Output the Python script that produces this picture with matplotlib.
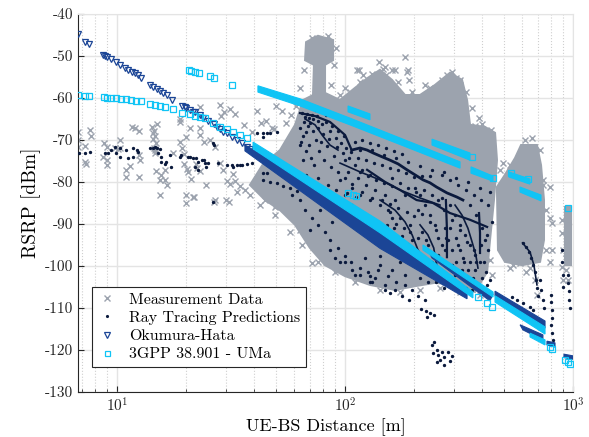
import numpy as np
import matplotlib.pyplot as plt
from matplotlib.ticker import FuncFormatter, LogLocator, NullFormatter

plt.rcParams['font.family'] = ['cmr10', 'DejaVu Serif']
plt.rcParams['mathtext.fontset'] = 'cm'
plt.rcParams['axes.formatter.use_mathtext'] = True

# colours
c_meas = '#9ca3ae'
c_ray = '#0b1a3d'
c_oh = '#1b4596'
c_3gpp = '#10c4f5'

# ---------------- measurement data (gray x) ----------------
# dense part of the cloud, outline read from the picture [m, dBm]
meas_cloud_d = [38.3, 43.4, 51.9, 60.4, 65.5, 72.4, 73.1, 66.8, 67.5, 76.1, 88.6, 88.6, 81.7, 81.7, 95.1,
                110.6, 126, 142.4, 160.7, 183.3, 213.3, 248.2, 288.8, 326, 343, 353.4, 411.3, 455, 464,
                450, 432.5, 420, 371.8, 303.8, 248.2, 202.8, 165.7, 128.7, 100, 81.7, 70.2, 60.4, 51.9, 44.6]
meas_cloud_p = [-80.7, -76.0, -72.4, -66.4, -60.5, -59.3, -52.1, -51.0, -46.7, -45.2, -46.2, -51.0, -52.1, -58.8, -60.5,
                -57.6, -55.2, -53.3, -55.7, -59.3, -59.3, -56.9, -54.0, -55.7, -60.5, -66.4, -66.9, -68.3, -74.8,
                -84.3, -93.8, -101.4, -106.2, -104.5, -104.0, -104.8, -105.7, -104.5, -102.4, -99.8, -95.7, -90.2,
                -86.7, -84.3]
meas_lobe2_d = [464, 503, 557, 592, 695, 724, 746, 746, 717, 598, 503, 469]
meas_lobe2_p = [-81.2, -78.3, -74.3, -71.2, -71.2, -76.0, -84.3, -93.8, -99.0, -99.8, -99.0, -96.2]
meas_lobe3_d = [922, 980, 980, 922]
meas_lobe3_p = [-86.0, -86.0, -99.8, -99.8]

# single measurement points
meas_d = [6.76, 6.76, 6.76, 7.2, 7.24, 7.3, 7.6, 7.65, 8.8, 9.05, 8.7, 9.0, 9.05, 9.8, 10.1, 10.3, 10.3,
          10.9, 10.9, 11.4, 12.5, 11.6, 12.0, 12.5, 12.5, 12.6,
          14.3, 14.5, 14.7, 14.4, 14.8, 14.5, 14.7, 14.4, 14.9, 14.6,
          14.8, 15.5, 15.6, 16.3, 16.3, 16.6, 15.5, 17.6, 18.9, 18.9, 18.9, 19.3, 19.6, 20.1, 21.0,
          19.6, 20.2, 20.5, 21.2, 20.0, 20.0, 21.6, 22.1, 22.5, 23.1, 23.0, 23.2, 23.2, 24.0, 24.5, 26.8,
          26.9, 25.6, 28.3, 29.6, 28.6, 28.3, 29.3, 30.3, 31.3, 32.1, 32.9, 34.6, 31.3, 32.9, 30.0, 31.0,
          26.7, 33.5, 21.8, 47.9, 48.9, 44.6, 49.3, 41.0, 43.0, 45.0, 50.0, 53.0, 55.0, 58.0, 61.0, 36.0, 39.0,
          100, 113, 120, 140.4, 149.8, 165.7, 187, 190.8, 224.3, 280, 295, 319.5, 361, 387, 114.7, 161, 183,
          147, 289, 188,
          495, 709, 793, 793, 805, 805, 793, 891, 891, 900, 891, 900, 935, 935, 950, 547, 586, 625, 681, 695,
          742, 71.5, 63.5, 54.6, 50.0,
          95.1, 105, 116.4, 131.3, 151.3, 171, 197, 235.9, 266.4, 306.8, 339.5, 371.8, 399, 437, 478.5, 529.4,
          615.9, 661, 716.7, 739, 762, 762, 648, 529.4, 432.5, 441, 391.1, 319.5, 261.1, 213.3, 174.3, 142.4,
          110.6, 90.4, 76.1, 64.8, 57.4, 49.3, 42.4, 38.3, 36.4, 63.5, 66.1, 68.8, 71.6, 84.2, 91.3, 89.5, 86.8]
meas_p = [-68.0, -70.0, -71.6, -71.4, -75.2, -75.6, -67.6, -69.0, -70.8, -71.6, -74.0, -74.8, -75.9, -72.0, -72.2,
          -70.0, -71.9, -77.1, -78.7, -76.3, -78.7, -67.0, -67.2, -67.8, -73.6, -74.8,
          -67.0, -67.9, -69.1, -69.8, -70.7, -71.9, -73.0, -68.3, -66.3, -72.4,
          -77.5, -79.5, -78.3, -77.1, -79.5, -80.8, -83.1, -73.2, -65.0, -65.8, -70.4, -71.9, -73.3, -69.2, -67.2,
          -75.6, -76.8, -77.6, -79.2, -83.1, -85.1, -83.6, -75.6, -76.6, -77.4, -62.1, -67.2, -68.8, -70.4, -80.7,
          -84.3, -71.6, -70.0, -61.6, -63.4, -64.2, -75.5, -77.1, -79.8, -80.5, -78.1, -79.8, -81.0, -62.6, -63.8,
          -84.3, -84.7, -84.7, -82.3, -83.5, -67.2, -67.4, -84.3, -85.9, -63.0, -66.0, -65.5, -62.0, -63.0, -66.0,
          -64.0, -62.0, -66.5, -68.0,
          -57.6, -53.3, -54.5, -51.4, -52.6, -53.3, -53.8, -55.7, -56.9, -54.5, -53.8, -55.7, -62.4, -64.8, -53.3,
          -53.3, -50.2, -53.1, -55.0, -53.3,
          -75.5, -82.1, -81.2, -88.6, -89.8, -96.2, -99.0, -89.0, -92.1, -96.2, -100.2, -103.3, -96.9, -101.0,
          -103.3, -99.8, -99.3, -101.4, -103.3, -106.9, -80.7, -99.4, -91.4, -85.9, -85.5,
          -59.3, -58.6, -56.2, -54.3, -54.5, -56.2, -58.6, -57.6, -55.7, -55.2, -58.6, -66.7, -66.2, -67.6, -77.1,
          -76.0, -70.0, -69.5, -72.4, -79.5, -86.7, -96.2, -100.5, -100.5, -98.6, -102.1, -106.9, -106.2, -105.2,
          -105.7, -106.2, -105.7, -103.8, -101.4, -99.0, -95.0, -91.9, -87.9, -85.5, -83.1, -81.9, -57.6, -53.3,
          -48.6, -45.7, -45.2, -48.1, -52.1, -56.9]

# ---------------- ray tracing predictions (navy dots) ----------------
ray_d = [6.8, 7.2, 7.6, 8.85, 9.15, 9.4, 9.8, 9.9, 10.3, 10.3, 11.0, 11.2, 11.7, 11.75, 12.2, 12.4,
         13.9, 14.4, 14.7, 14.9, 15.1, 15.4, 15.6, 15.6, 16.2, 16.4, 17.0, 17.3, 18.9, 19.1, 20.5, 20.9,
         21.5, 22.3, 22.6, 21.9, 22.6, 23.7, 24.0, 24.3, 24.6, 25.0, 26.4, 26.6, 27.8, 26.4, 30.3, 31.9,
         32.4, 33.5, 34.6, 35.2, 37.0, 39.0, 41.0, 43.8, 45.3, 43.8, 46.9, 50.2, 43.8, 45.3,
         43.8, 46.9, 50.2, 53.6, 57.4, 61.4,
         66.8, 69.5, 72.4, 76.1, 79.3, 68.8, 72.4, 65.5, 74.6, 80.1, 85.9, 91.3, 96.1, 101, 83.3, 76.9,
         67.5, 71.0, 89.5, 100, 106, 63.5, 82.5, 73.9,
         110.6, 118.8, 128.7, 114, 123.6, 135.4, 148.3, 160.7, 116.4, 128.7, 142.4, 157.5, 174.3, 192.8,
         165.7, 183.3, 202.8, 213.3, 224.3, 235.9, 248.2, 209, 197, 217.5, 231, 256, 153, 139.5, 160.7,
         174.3, 122.4, 107, 100, 95.1, 103,
         266, 288.8, 303.8, 319.5, 336.1, 353.4, 371.8, 391.1, 313, 329, 346, 364, 383, 295, 274.6, 261.1,
         411, 424, 399, 375, 353,
         58.6, 63.5, 66.8, 71.8, 76.1, 81.7, 85.9, 93.2, 100, 106, 116.4, 126, 135.4, 149.8, 165.7, 178,
         190.8, 77.7, 87.7, 95.1, 110.6, 70.2, 128.7, 142.4,
         601, 620, 641, 654, 668, 681, 688, 695, 702, 800, 800, 809, 809, 950, 950, 960, 960, 970,
         240.8, 245, 252, 257, 261, 272, 283, 289, 272, 252, 295, 266, 243,
         215, 227, 236, 245,
         64.8, 68.1, 71.6, 75.4, 66.1, 70.2, 63.5, 67.5, 76.1, 82.5, 87.7, 93.2, 99.0, 64.1, 69.5, 78.5,
         85.0, 92.2, 98.0, 104, 65.5, 73.1, 80.9, 86.8, 93.2, 100, 107, 67.5, 76.1, 84.2, 91.3, 102, 111.7, 70.9,
         110.6, 118.8, 128.7, 139.5, 151.3, 164, 178, 114, 124, 134, 145.3, 157.5, 171, 185, 200.7, 217.5,
         235.9, 116.4, 126, 136.8, 160.7, 174.3, 188.8, 205, 222, 240.8, 256, 107, 118.8, 131.3, 145.3,
         157.5, 171, 187, 200.7, 217.5, 235.9, 250.7, 112, 124, 136.8, 148.3, 164, 178, 192.8, 209, 227,
         266.4, 288.8, 313.1, 339.5, 368, 395, 424, 272, 294.8, 319.5, 343, 368, 395, 420, 441, 274.6, 283,
         294.8, 306.8, 326, 346, 371.8, 399, 420, 303.8, 263.8, 280, 251, 231, 209, 192.8, 174.3, 160.7, 183.3,
         540.5, 568, 603, 648, 668, 716.7, 724, 739, 746, 800, 809, 818, 895, 895, 904, 904,
         229, 149.8, 131.3, 157.5,
         149.8, 154.4, 160.7, 167.4, 181.5, 188.8, 200.7, 217.5, 227, 240.8, 256, 266.4, 277, 288.8, 306.8,
         319.5, 332.7, 353.4, 375.6, 407, 415.5, 432.5, 361, 339.5, 313, 288.8, 272, 250.7, 231, 213.3,
         85.9, 90.4, 100, 107, 116.4, 128.7, 139.5, 154.4, 167.4, 183.3, 197, 209, 224.3, 122.4, 142.4,
         116.4, 131.3, 148.3, 167.4, 188.8, 213.3, 240.8, 272, 306.8, 346, 391.1, 432.5]
ray_p = [-73.2, -73.2, -72.8, -73.0, -73.0, -72.4, -71.6, -73.0, -74.0, -72.0, -72.5, -74.4, -74.0, -72.0,
         -72.4, -72.8, -72.0, -72.0, -71.6, -72.0, -73.2, -72.2, -74.0, -75.2, -75.6, -75.2, -73.6, -76.4,
         -74.0, -73.6, -74.0, -74.0, -74.4, -74.4, -75.2, -76.4, -77.1, -74.8, -74.8, -75.5, -76.4, -75.5,
         -70.8, -71.2, -75.5, -84.7, -76.0, -76.0, -76.4, -76.0, -76.0, -76.0, -75.7, -75.5, -68.4, -68.4,
         -68.4, -69.2, -68.3, -68.0, -77.9, -77.9,
         -79.5, -79.9, -80.3, -81.0, -81.5, -82.1,
         -64.5, -64.8, -65.0, -65.5, -66.2, -66.7, -67.9, -69.0, -70.0, -68.6, -67.9, -69.5, -70.7, -71.9,
         -71.4, -72.6, -72.6, -74.3, -73.8, -74.8, -72.9, -71.2, -64.0, -62.9,
         -76.0, -77.1, -78.3, -79.0, -80.7, -81.9, -80.2, -79.0, -83.1, -84.3, -85.5, -87.1, -88.6, -90.2,
         -84.3, -83.1, -81.4, -83.1, -85.5, -87.9, -90.2, -86.7, -93.8, -91.9, -95.0, -93.3, -90.2, -91.9,
         -93.8, -96.2, -87.9, -85.5, -83.1, -79.5, -77.6,
         -83.8, -85.5, -87.9, -90.2, -92.6, -95.0, -97.4, -99.0, -95.0, -98.1, -101.0, -102.9, -104.5, -99.8,
         -96.2, -101.0, -93.8, -96.2, -91.0, -87.9, -85.5,
         -83.1, -84.3, -86.7, -88.6, -90.2, -91.9, -93.8, -95.7, -97.6, -99.0, -100.5, -101.4, -102.9, -104.5,
         -105.7, -107.1, -108.1, -86.7, -89.5, -99.0, -102.1, -91.4, -103.8, -99.8,
         -94.5, -95.5, -96.7, -98.1, -99.8, -101.4, -103.3, -105.2, -107.1, -106.9, -108.6, -110.5, -112.4,
         -102.1, -104.0, -105.9, -108.1, -110.0,
         -118.8, -118.1, -120.0, -121.2, -122.4, -121.7, -120.5, -122.6, -123.6, -122.9, -121.4, -120.5, -120.7,
         -110.2, -110.7, -111.2, -111.7,
         -63.6, -63.8, -64.0, -64.3, -65.7, -66.0, -67.1, -68.1, -67.1, -65.7, -66.7, -67.9, -69.0, -70.5, -71.2,
         -70.5, -69.8, -71.7, -73.1, -74.3, -74.8, -76.0, -74.8, -76.4, -77.6, -79.0, -80.5, -78.3, -79.0, -80.7,
         -81.9, -82.6, -83.6, -83.1,
         -70.5, -70.0, -70.7, -71.2, -71.9, -72.6, -73.3, -74.3, -74.8, -75.5, -76.0, -76.7, -77.1, -77.9, -78.8,
         -78.6, -78.6, -77.6, -78.6, -79.5, -81.0, -80.2, -81.4, -82.4, -81.9, -83.1, -84.3, -81.4, -82.4, -83.8,
         -84.3, -85.2, -86.2, -87.1, -88.1, -87.6, -89.5, -91.4, -86.7, -89.0, -90.0, -91.4, -91.0, -92.9, -91.9,
         -93.3, -93.8,
         -78.3, -79.5, -80.7, -81.9, -83.1, -84.3, -85.5, -86.7, -89.0, -91.4, -94.3, -96.2, -95.0, -92.6, -89.5,
         -90.9, -93.8, -96.2, -99.0, -101.0, -102.9, -101.0, -102.9, -104.5, -102.1, -98.6, -102.9, -100.5,
         -101.4, -99.8, -98.1, -99.0, -101.0, -102.1,
         -107.4, -108.1, -108.8, -109.8, -110.5, -103.3, -105.7, -108.1, -110.0, -114.0, -116.0, -117.6, -96.2,
         -99.0, -102.1, -105.0,
         -112.1, -105.7, -103.8, -106.4,
         -83.1, -86.7, -88.6, -90.0, -91.0, -94.8, -96.7, -97.6, -96.2, -99.0, -97.4, -95.0, -93.3, -91.0, -93.3,
         -96.2, -99.0, -99.0, -99.0, -99.0, -101.4, -103.3, -105.7, -105.2, -104.3, -103.8, -105.2, -103.8,
         -103.8, -102.9,
         -96.2, -98.1, -99.0, -101.0, -102.1, -102.4, -101.0, -102.4, -103.8, -104.5, -105.7, -107.1, -108.1,
         -98.1, -97.6,
         -72.4, -72.4, -73.6, -74.3, -75.2, -76.2, -77.1, -77.6, -79.0, -80.0, -81.4, -82.4]

# dense ray tracing tracks
track_d = [[107, 116.4, 125, 133, 142.4, 157.5, 171, 187, 202.8, 220, 236, 252, 280, 310, 329],
           [125, 150, 174.3, 206, 243, 288.8, 353.4, 420],
           [277, 280, 280],
           [387, 391, 391],
           [63.5, 73.9, 85.9, 100, 107],
           [95.1, 116.4, 142.4, 174.3, 213.3, 261.1],
           [142.4, 165.7, 183.3, 197, 209, 224.3],
           [303.8, 326, 346, 361, 375, 383],
           [213.3, 231, 245, 250.7, 261.1],
           [66.8, 73.9, 79.3, 85.9, 93.2],
           [601, 648, 674, 695]]
track_p = [[-72.4, -71.9, -72.4, -73.1, -73.8, -74.8, -75.7, -77.1, -78.3, -79.5, -80.2, -81.2, -82.6, -83.6, -84.3],
           [-77.1, -80.0, -81.9, -84.3, -85.0, -87.4, -89.0, -90.7],
           [-84.3, -91.4, -97.9],
           [-87.4, -92.1, -96.9],
           [-63.6, -64.3, -65.7, -68.8, -72.4],
           [-75.5, -77.6, -79.5, -81.9, -83.8, -85.5],
           [-84.3, -86.7, -89.5, -92.6, -96.2, -99.0],
           [-85.5, -87.9, -91.0, -94.3, -97.4, -100.5],
           [-90.2, -92.6, -95.7, -99.0, -102.1],
           [-65.0, -66.4, -68.8, -71.2, -72.4],
           [-94.5, -96.7, -99.8, -104.5]]
track_w = [2.0, 1.6, 1.6, 1.6, 1.6, 1.2, 1.2, 1.2, 1.2, 1.2, 1.2]

# ---------------- Okumura-Hata (triangles) ----------------
oh_d = [6.75, 7.24, 7.54, 8.71, 8.86, 9.07, 9.41, 9.90, 10.3, 10.8, 11.2, 11.6, 12.0, 12.4, 12.8,
        13.95, 14.4, 14.9, 15.4, 15.95, 16.5, 17.5, 19.2, 19.86, 20.1, 20.9, 21.6, 22.0, 23.1, 23.9, 25.1,
        26.5, 27.4, 28.3, 29.3, 30.3, 31.9, 33.5, 35.2, 37.0, 38.3]
oh_p = [-44.8, -46.7, -47.1, -49.8, -50.0, -50.3, -50.8, -51.5, -52.1, -52.8, -53.3, -53.7, -54.1, -54.5, -55.2,
        -56.9, -57.5, -57.9, -58.3, -58.7, -59.3, -60.5, -61.9, -62.1, -62.5, -62.9, -63.3, -63.3, -64.0, -64.8,
        -65.4, -66.2, -66.8, -67.5, -68.0, -68.4, -69.2, -70.0, -70.8, -71.6, -72.2]
# dense Okumura-Hata bands (outline of the packed markers)
oh_band_d = [[36.4, 142.4, 343, 343, 142.4, 36.4],
             [231, 446, 432, 241],
             [455, 754, 754, 455],
             [586, 738, 738, 603],
             [769, 834, 834, 769],
             [913, 1000, 1000, 913]]
oh_band_p = [[-71.2, -90.2, -105.7, -107.8, -95.8, -72.6],
             [-96.2, -106.7, -108.3, -98.1],
             [-106.0, -113.1, -114.8, -107.1],
             [-114.0, -116.4, -117.6, -115.2],
             [-117.9, -118.3, -119.3, -118.8],
             [-121.0, -121.4, -122.2, -121.8]]

# ---------------- 3GPP 38.901 UMa (squares) ----------------
g_d = [6.75, 7.24, 7.54, 8.77, 9.04, 9.41, 9.90, 10.4, 10.95, 11.5, 12.1, 12.7, 13.95, 14.68, 15.4, 16.2,
       17.6, 19.3, 20.9, 22.0, 23.1, 24.3, 26.3, 28.3, 30.3, 32.2, 34.6, 37.2,
       20.7, 21.1, 22.0, 22.8, 25.7, 26.7, 31.9,
       361, 445.6, 534, 635, 950, 383, 420, 441, 103, 108, 112, 793, 810, 922, 950, 970]
g_p = [-59.3, -59.5, -59.5, -59.8, -59.9, -59.9, -60.1, -60.2, -60.3, -60.5, -60.6, -60.8, -61.4, -61.7,
       -61.9, -62.1, -62.7, -63.5, -63.9, -64.3, -64.6, -64.8, -65.9, -66.8, -67.5, -68.0, -68.8, -69.5,
       -53.3, -53.5, -53.8, -54.0, -54.8, -55.3, -56.9,
       -74.0, -79.0, -77.9, -79.3, -86.2, -107.4, -108.8, -109.8, -82.6, -83.0, -83.3, -119.3, -119.8,
       -122.4, -122.9, -123.3]
g_band_d = [[39.5, 142.4, 364, 364, 142.4, 39.5],
            [219.8, 446, 446, 219.8],
            [455, 754, 754, 455],
            [648, 754, 754, 648],
            [41.5, 63.5, 105.2, 319.5, 319.5, 105.2, 63.5, 41.5],
            [103.1, 128.7, 128.7, 103.1],
            [240.8, 353.4, 353.4, 240.8],
            [357, 445.6, 445.6, 357],
            [523.6, 647, 647, 523.6],
            [585.6, 723.8, 723.8, 585.6]]
g_band_p = [[-70.5, -89.3, -106.2, -107.6, -92.1, -72.1],
            [-95.0, -106.2, -107.4, -96.2],
            [-107.1, -114.5, -116.2, -108.6],
            [-116.0, -117.6, -118.8, -116.9],
            [-57.1, -60.2, -64.8, -75.2, -76.7, -66.4, -61.9, -58.6],
            [-61.9, -63.8, -65.2, -63.3],
            [-69.8, -73.1, -74.8, -71.2],
            [-76.4, -78.6, -79.8, -77.9],
            [-77.6, -79.3, -80.5, -78.8],
            [-81.2, -83.1, -84.5, -82.4]]

fig = plt.figure(figsize=(5.89, 4.37), dpi=100)
ax = fig.add_axes([0.1324, 0.103, 0.8404, 0.865])

# measurement
ax.fill(meas_cloud_d, meas_cloud_p, color=c_meas, lw=1.5, ec=c_meas, zorder=2)
ax.fill(meas_lobe2_d, meas_lobe2_p, color=c_meas, lw=1.5, ec=c_meas, zorder=2)
ax.fill(meas_lobe3_d, meas_lobe3_p, color=c_meas, lw=1.5, ec=c_meas, zorder=2)
ax.plot(meas_d, meas_p, 'x', color=c_meas, ms=4.2, mew=1.0, zorder=2, label='Measurement Data')

# ray tracing
for d, p, w in zip(track_d, track_p, track_w):
    ax.plot(d, p, '-', color=c_ray, lw=w, zorder=3)
ax.plot(ray_d, ray_p, '.', color=c_ray, ms=2.8, zorder=3, label='Ray Tracing Predictions')

# Okumura-Hata
for d, p in zip(oh_band_d, oh_band_p):
    ax.fill(d, p, color=c_oh, lw=0.8, ec=c_oh, zorder=4)
ax.plot(oh_d, oh_p, 'v', mfc='none', mec=c_oh, ms=5, mew=0.9, zorder=4, label='Okumura-Hata')

# 3GPP
for d, p in zip(g_band_d, g_band_p):
    ax.fill(d, p, color=c_3gpp, lw=0.8, ec=c_3gpp, zorder=5)
ax.plot(g_d, g_p, 's', mfc='none', mec=c_3gpp, ms=4, mew=0.9, zorder=5, label='3GPP 38.901 - UMa')

ax.set_xscale('log')
ax.set_xlim(6.74, 1000)
ax.set_ylim(-130, -40)
ax.set_yticks(np.arange(-130, -39, 10))
ax.yaxis.set_major_formatter(FuncFormatter(lambda v, pos: '%d' % v))
ax.xaxis.set_minor_locator(LogLocator(base=10, subs=np.arange(2, 10)))
ax.xaxis.set_minor_formatter(NullFormatter())

ax.set_axisbelow(True)
ax.grid(which='major', color='#e4e4e4', lw=1.0)
ax.grid(which='minor', axis='x', color='#cfcfcf', ls=':', lw=0.8)
ax.tick_params(which='both', direction='in', top=False, right=False, colors='#262626', labelsize=11)
ax.tick_params(which='major', length=4)
ax.tick_params(which='minor', length=2)
for s in ['top', 'right']:
    ax.spines[s].set_color('#e4e4e4')
for s in ['left', 'bottom']:
    ax.spines[s].set_color('#262626')

ax.set_xlabel('UE-BS Distance [m]', fontsize=13, labelpad=2)
ax.set_ylabel('RSRP [dBm]', fontsize=14, labelpad=3)

leg = ax.legend(loc='lower left', bbox_to_anchor=(0.012, 0.045), fontsize=11.5, frameon=True,
                fancybox=False, edgecolor='#262626', framealpha=1, handlelength=1.2,
                handletextpad=0.8, borderpad=0.35, labelspacing=0.25, markerscale=0.9)
leg.get_frame().set_linewidth(0.8)

fig.savefig('out.png', dpi=100)
